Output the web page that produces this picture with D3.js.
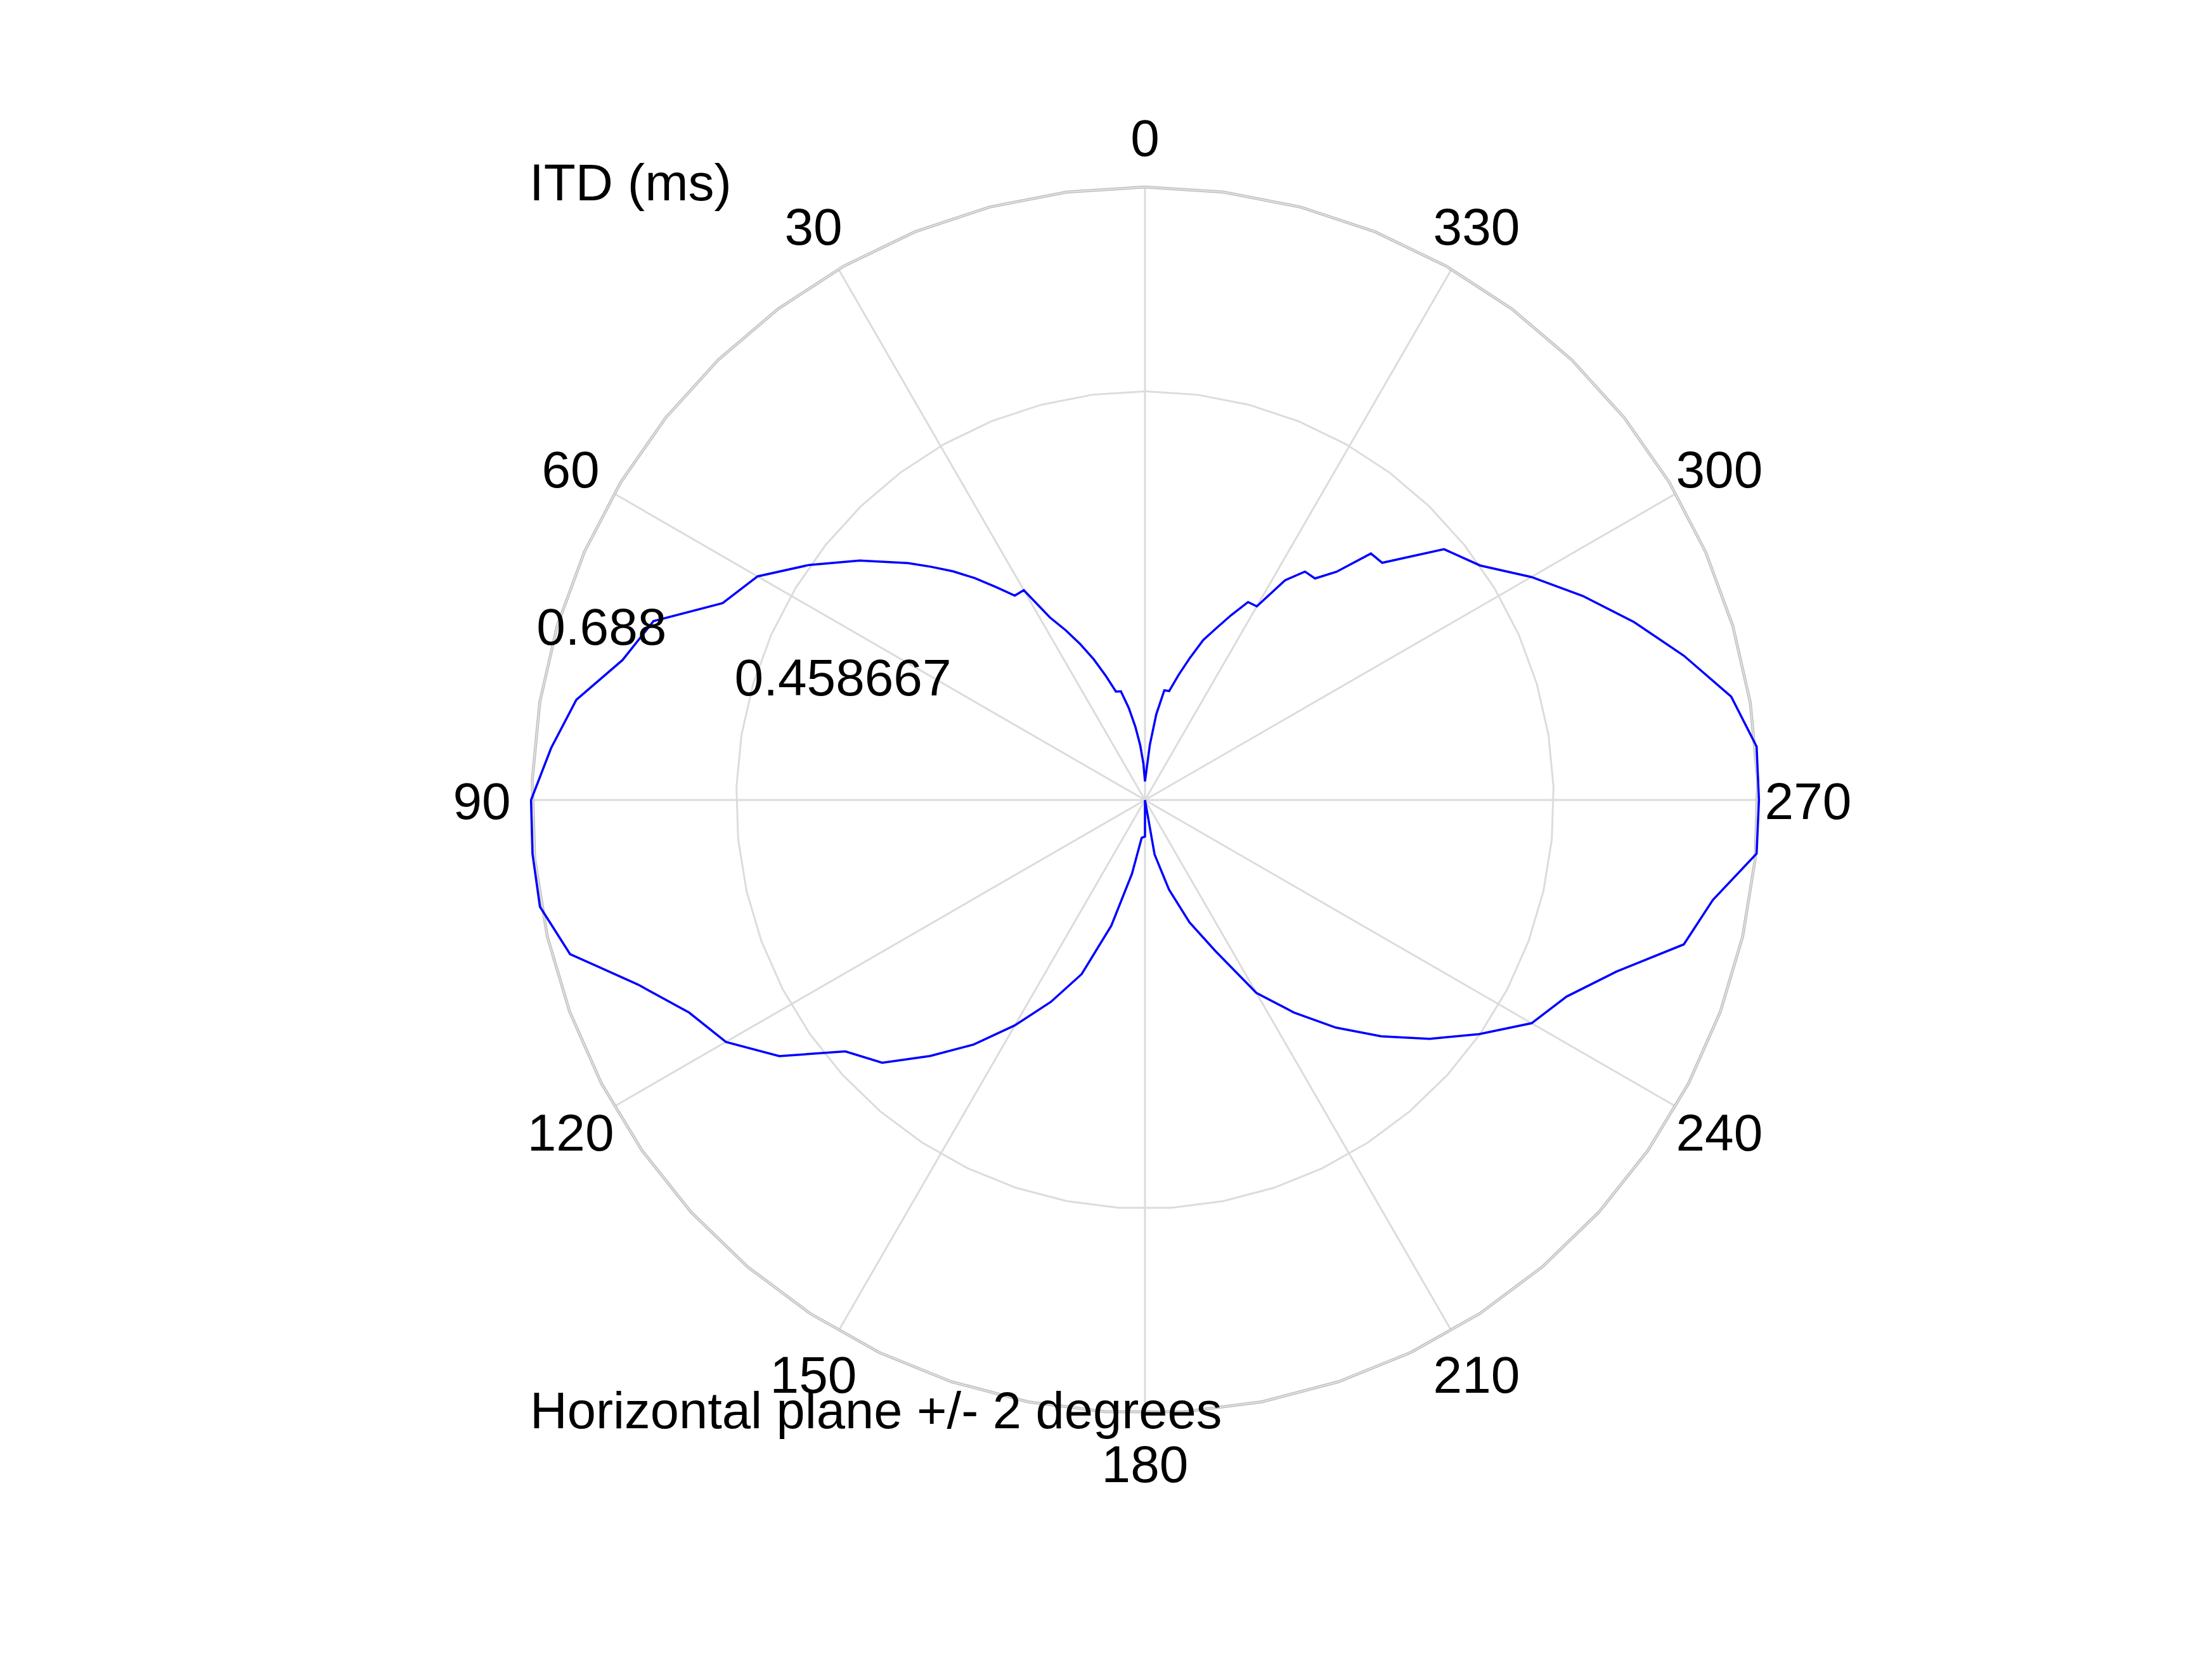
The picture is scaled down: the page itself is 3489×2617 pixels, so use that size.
<!DOCTYPE html>
<html>
<head>
<meta charset="utf-8">
<script src="https://cdn.jsdelivr.net/npm/d3@7"></script>
<style>
  html, body { margin: 0; padding: 0; background: #ffffff; }
  svg { display: block; }
  text { font-family: "Liberation Sans", Arial, Helvetica, sans-serif; fill: #000; }
</style>
</head>
<body>
<script>
// ---------------- data ----------------
const azimuthDeg = [
  0, 2.5, 5, 7.5, 10, 12.5, 15, 17.5, 20, 22.5, 25, 27.5, 30, 32.5, 35, 37.5, 40, 42.5, 45,
  50, 55, 60, 65, 70, 75, 80, 85, 90,
  95, 100, 105, 110, 115, 120, 125, 130, 135, 140, 145, 150, 155, 160, 165, 170, 175, 180, 185,
  190, 195, 200, 205, 210, 215, 220, 225, 230, 235, 240, 245, 250, 255, 260, 265, 270,
  275, 280, 285, 290, 295, 300, 305, 310, 315, 317.5, 320, 322.5, 325, 327.5, 330, 332.5,
  335, 337.5, 340, 342.5, 345, 347.5, 350, 352.5, 355
];
const itdMs = [
  0.021, 0.041, 0.062, 0.083, 0.105, 0.125, 0.126, 0.146, 0.168, 0.189, 0.210, 0.231, 0.272, 0.272, 0.292, 0.314, 0.335, 0.355, 0.376,
  0.418, 0.460, 0.502, 0.523, 0.587, 0.607, 0.648, 0.669, 0.689,
  0.690, 0.6895, 0.668, 0.6055, 0.5645, 0.543, 0.501, 0.439, 0.417, 0.375, 0.335, 0.292, 0.250, 0.208, 0.146, 0.084, 0.0425, 0.041, 0.0,
  0.062, 0.104, 0.146, 0.187, 0.250, 0.291, 0.3335, 0.375, 0.417, 0.458, 0.501, 0.522, 0.563, 0.626, 0.647, 0.689, 0.689,
  0.689, 0.668, 0.626, 0.584, 0.542, 0.5006, 0.459, 0.438, 0.3765, 0.3753, 0.3344, 0.3134, 0.313, 0.2924, 0.251, 0.2505,
  0.229, 0.2085, 0.191, 0.167, 0.145, 0.1253, 0.125, 0.097, 0.062
];
const ringValues = [0.458667, 0.688];
const ringLabels = ["0.458667", "0.688"];
const spokeAngles = [0, 30, 60, 90, 120, 150, 180, 210, 240, 270, 300, 330];
const spokeLabels = ["0", "30", "60", "90", "120", "150", "180", "210", "240", "270", "300", "330"];
const titleText = "ITD (ms)";
const xLabelText = "Horizontal plane +/- 2 degrees";

// ---------------- layout ----------------
const W = 3489, H = 2617;
const cx = 1806, cy = 1262;
const R = 967;
const FS = 82;
const circleSegments = 49;

const svg = d3.select("body").append("svg")
  .attr("width", W).attr("height", H)
  .attr("viewBox", `0 0 ${W} ${H}`);
svg.append("rect").attr("width", W).attr("height", H).attr("fill", "#fff");

const rScale = d3.scaleLinear().domain([0, 0.688]).range([0, R]);
// plot angle: 0 at top, increasing counter-clockwise; lineRadial: clockwise from top
const toRad = d => -d * Math.PI / 180;
const px = (deg, r) => cx - r * Math.sin(deg * Math.PI / 180);
const py = (deg, r) => cy - r * Math.cos(deg * Math.PI / 180);

const g = svg.append("g").attr("transform", `translate(${cx},${cy})`);

// ---------------- text (drawn beneath the grid) ----------------
const txt = svg.append("g").attr("font-size", FS);

txt.append("text").attr("x", 835).attr("y", 316).text(titleText);
txt.append("text").attr("x", 836).attr("y", 2253).attr("font-size", 81.3).text(xLabelText);

const labelR = 1046;
txt.selectAll("text.spoke").data(spokeAngles).enter().append("text")
  .attr("class", "spoke")
  .attr("x", d => px(d, labelR))
  .attr("y", d => py(d, labelR))
  .attr("dy", "0.36em")
  .attr("text-anchor", "middle")
  .text((d, i) => spokeLabels[i]);

const ringLabelAngle = 75.7; // deg, plot convention
txt.selectAll("text.ring").data(ringValues).enter().append("text")
  .attr("class", "ring")
  .attr("x", d => px(ringLabelAngle, rScale(d) + 23.5))
  .attr("y", d => py(ringLabelAngle, rScale(d) + 23.5))
  .text((d, i) => ringLabels[i]);

// ---------------- grid ----------------
const gridColor = "#dcdcdc";
const polyAngles = d3.range(circleSegments).map(k => k * 360 / circleSegments);
const ringLine = d3.lineRadial().curve(d3.curveLinearClosed);

// spokes
g.selectAll("line.spoke").data(spokeAngles).enter().append("line")
  .attr("class", "spoke")
  .attr("x1", 0).attr("y1", 0)
  .attr("x2", d => px(d, R) - cx)
  .attr("y2", d => py(d, R) - cy)
  .attr("stroke", gridColor).attr("stroke-width", 3);

// inner rings
g.selectAll("path.ring").data(ringValues.slice(0, -1)).enter().append("path")
  .attr("class", "ring")
  .attr("d", v => ringLine(polyAngles.map(a => [toRad(a), rScale(v)])))
  .attr("fill", "none").attr("stroke", gridColor).attr("stroke-width", 3);

// outer ring (double-stroked look)
const outerV = ringValues[ringValues.length - 1];
const outerD = ringLine(polyAngles.map(a => [toRad(a), rScale(outerV)]));
g.append("path").attr("d", outerD).attr("fill", "none")
  .attr("stroke", "#b4b4b4").attr("stroke-width", 4.5);
g.append("path").attr("d", outerD).attr("fill", "none")
  .attr("stroke", "#dedede").attr("stroke-width", 2.5);

// ---------------- data curve ----------------
const curve = d3.lineRadial()
  .angle(d => toRad(d[0]))
  .radius(d => rScale(d[1]))
  .curve(d3.curveLinearClosed);
const pts = azimuthDeg.map((a, i) => [a, itdMs[i]]);
g.append("path").attr("d", curve(pts))
  .attr("fill", "none").attr("stroke", "#0000ff")
  .attr("stroke-width", 3.5).attr("stroke-linejoin", "miter");
</script>
</body>
</html>
